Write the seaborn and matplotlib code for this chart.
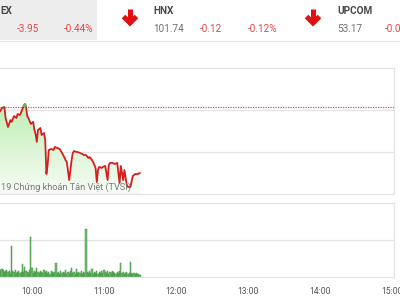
import numpy as np
import pandas as pd
import matplotlib
matplotlib.use("Agg")
import matplotlib.pyplot as plt
from matplotlib.colors import LinearSegmentedColormap
from matplotlib.lines import Line2D
from matplotlib.patches import Rectangle
import seaborn as sns

# ---------------- data ----------------
price_times = ["9:33", "9:35", "9:37", "9:38", "9:40", "9:42", "9:43", "9:45", "9:47", "9:48",
               "9:50", "9:52", "9:53", "9:54", "9:55", "9:56", "9:57", "9:59", "10:01", "10:02",
               "10:03", "10:04", "10:05", "10:07", "10:08", "10:10", "10:11", "10:12", "10:13", "10:14",
               "10:16", "10:18", "10:19", "10:21", "10:23", "10:24", "10:26", "10:28", "10:29", "10:31",
               "10:33", "10:34", "10:35", "10:37", "10:38", "10:40", "10:42", "10:43", "10:45", "10:47",
               "10:48", "10:50", "10:51", "10:53", "10:54", "10:55", "10:56", "10:58", "10:59", "11:01",
               "11:03", "11:04", "11:05", "11:07", "11:09", "11:11", "11:13", "11:14", "11:16", "11:17",
               "11:19", "11:20", "11:22", "11:24", "11:26", "11:28", "11:30"]
price_values = [897.38, 897.62, 897.68, 897.02, 896.49, 896.90, 896.79, 897.14, 897.02, 897.26,
                897.20, 897.56, 897.74, 897.86, 897.74, 897.14, 897.02, 896.67, 896.79, 896.31,
                896.07, 895.60, 896.31, 896.43, 896.01, 896.13, 895.71, 893.69, 894.23, 895.12,
                895.18, 895.12, 895.30, 895.24, 895.18, 895.06, 894.82, 894.52, 894.40, 893.33,
                894.52, 894.94, 895.06, 895.00, 895.00, 894.94, 894.88, 894.82, 894.82, 894.64,
                894.70, 894.52, 894.40, 894.05, 893.21, 893.93, 894.11, 894.05, 894.11, 894.17,
                893.33, 894.23, 894.35, 894.35, 894.29, 894.35, 893.15, 894.17, 893.33, 893.93,
                893.04, 892.92, 892.92, 893.57, 893.69, 893.69, 893.75]
reference_price = 897.70

volume_start = "9:33"
volumes = [6, 7, 8, 7, 5, 6, 7, 5, 6, 4,
           31,
           6, 5, 7, 4, 5, 6, 4, 5,
           13,
           5, 10, 6, 5, 4, 7,
           40,
           9, 4, 6, 5, 9, 5, 4, 6, 5,
           4, 7, 5, 6, 4, 5, 3, 6, 5, 4, 5,
           14,
           4, 5, 3, 6, 4, 5, 4, 7, 3, 5, 4, 6,
           9, 4, 5, 3, 8, 4, 5, 4, 6, 3, 5, 4,
           48,
           5, 4, 6, 4, 8, 3, 5, 4, 6, 3, 5, 4, 6,
           4, 7, 5, 4, 6, 3, 5, 4, 6, 5, 4, 3, 5, 4, 6,
           14,
           4, 5, 3, 4, 5, 3, 4,
           15,
           4, 3, 4, 3, 4, 3, 3, 2]

tick_hours = [10, 11, 12, 13, 14, 15]
tick_labels = ["10:00", "11:00", "12:00", "13:00", "14:00", "15:00"]

header_names = ["EX", "HNX", "UPCOM"]
header_values = ["", "101.74", "53.17"]
header_changes = ["-3.95", "-0.12", "-0.02"]
header_pcts = ["-0.44%", "-0.12%", "-0.02%"]
watermark = "19 Chứng khoán Tân Việt (TVSI)"


def to_hours(s):
    h, m = s.split(":")
    return int(h) + int(m) / 60.0


t = np.array([to_hours(s) for s in price_times])
p = np.array(price_values)
vt0 = to_hours(volume_start)
vt = vt0 + np.arange(len(volumes)) / 60.0

price_df = pd.DataFrame({"t": t, "price": p})
vol_df = pd.DataFrame({"t": vt, "vol": volumes})

# ---------------- figure ----------------
sns.set_style("white")
plt.rcParams["font.family"] = ["Roboto", "DejaVu Sans"]

W, H = 400, 300
fig = plt.figure(figsize=(4, 3), dpi=100)
fig.patch.set_facecolor("white")

XMIN = 10 - 32 / 72.0
XMAX = 10 + 362 / 72.0


def fx(px):
    return px / W


def fy(py):
    return 1 - py / H


GRID = "#e3e3e3"

# header
fig.patches.append(Rectangle((0, fy(40)), fx(97), 40 / H, transform=fig.transFigure,
                             facecolor="#ededed", edgecolor="none", zorder=0))
fig.add_artist(Line2D([0, 1], [fy(40.5), fy(40.5)], transform=fig.transFigure,
                      color="#e4e4e4", lw=0.8))
name_x = [0, 153, 337]
for i in range(3):
    x0 = name_x[i]
    fig.text(fx(x0), fy(11), header_names[i], fontsize=7.2, fontweight="bold",
             color="#4a4a4a", va="center", ha="left")
    if header_values[i]:
        fig.text(fx(x0), fy(29), header_values[i], fontsize=7.2, color="#707070",
                 va="center", ha="left")
change_x = [17, 200, 385]
pct_x = [64, 248, 433]
for i in range(3):
    fig.text(fx(change_x[i]), fy(29), header_changes[i], fontsize=7.2, color="#e04848",
             va="center", ha="left")
    fig.text(fx(pct_x[i]), fy(29), header_pcts[i], fontsize=7.2, color="#e04848",
             va="center", ha="left")

for cx in [130, 313]:
    kw = dict(transform=fig.transFigure, color="#e01010", lw=3.6, solid_capstyle="butt",
              solid_joinstyle="miter")
    fig.add_artist(Line2D([fx(cx), fx(cx)], [fy(9), fy(23)], **kw))
    fig.add_artist(Line2D([fx(cx - 6.5), fx(cx), fx(cx + 6.5)], [fy(16.5), fy(23), fy(16.5)], **kw))

# ---------------- price panel ----------------
axp = fig.add_axes([0, fy(194), 394 / W, (194 - 68) / H])
axp.set_facecolor("none")
YMIN, YMAX = 892.5, 900.0

poly = axp.fill_between(t, p, YMIN, color="none", lw=0)
cmap = LinearSegmentedColormap.from_list("g", ["#f7fcf6", "#dcf5d5", "#bdeeb2"])
grad = np.linspace(0, 1, 256).reshape(-1, 1)
im = axp.imshow(grad, extent=[XMIN, XMAX, YMIN, p.max()], origin="lower", aspect="auto",
                cmap=cmap, zorder=1)
im.set_clip_path(poly.get_paths()[0], transform=axp.transData)

sns.lineplot(data=price_df, x="t", y="price", ax=axp, color="#d41f1f", lw=1.3, zorder=3,
             estimator=None, sort=False)
green = sns.lineplot(data=price_df, x="t", y="price", ax=axp, color="#5cb85c", lw=1.3, zorder=4,
                     estimator=None, sort=False)
gl = green.lines[-1]
clip = Rectangle((XMIN, reference_price), XMAX - XMIN, 5, transform=axp.transData)
gl.set_clip_path(clip)

axp.axhline(reference_price, color="#e05050", lw=0.9, ls=(0, (1, 1)), zorder=2)
axp.set_xlim(XMIN, XMAX)
axp.set_ylim(YMIN, YMAX)
axp.set_yticks([895.0, 897.5])
axp.set_xticks([])
axp.grid(axis="y", color=GRID, lw=0.9)
axp.set_axisbelow(True)
axp.tick_params(left=False, labelleft=False, bottom=False, labelbottom=False)
axp.set_xlabel("")
axp.set_ylabel("")
for s in ["top", "right", "bottom"]:
    axp.spines[s].set_color(GRID)
    axp.spines[s].set_linewidth(0.9)
axp.spines["left"].set_visible(False)
axp.text(XMIN + 1 / 72, 892.5 + 0.4, watermark, fontsize=6.6, color="#7a7a7a",
         ha="left", va="center", zorder=5)

# ---------------- volume panel ----------------
axv = fig.add_axes([0, fy(277), 394 / W, (277 - 203) / H])
axv.set_facecolor("none")
sns.barplot(data=vol_df, x="t", y="vol", ax=axv, native_scale=True, color="#6cc36a",
            edgecolor="#3f8f3f", linewidth=0.35, width=0.85, saturation=1)
axv.set_xlim(XMIN, XMAX)
axv.set_ylim(0, 74)
axv.set_yticks([37])
axv.grid(axis="y", color=GRID, lw=0.9)
axv.set_axisbelow(True)
axv.set_xticks(tick_hours)
axv.set_xticklabels(tick_labels)
axv.tick_params(axis="x", length=4, width=0.8, color="#cccccc", labelsize=6.2,
                labelcolor="#555555", pad=3)
axv.tick_params(left=False, labelleft=False)
axv.set_xlabel("")
axv.set_ylabel("")
for s in ["top", "right", "bottom"]:
    axv.spines[s].set_color(GRID)
    axv.spines[s].set_linewidth(0.9)
axv.spines["left"].set_visible(False)

fig.savefig("out.png", dpi=100)
